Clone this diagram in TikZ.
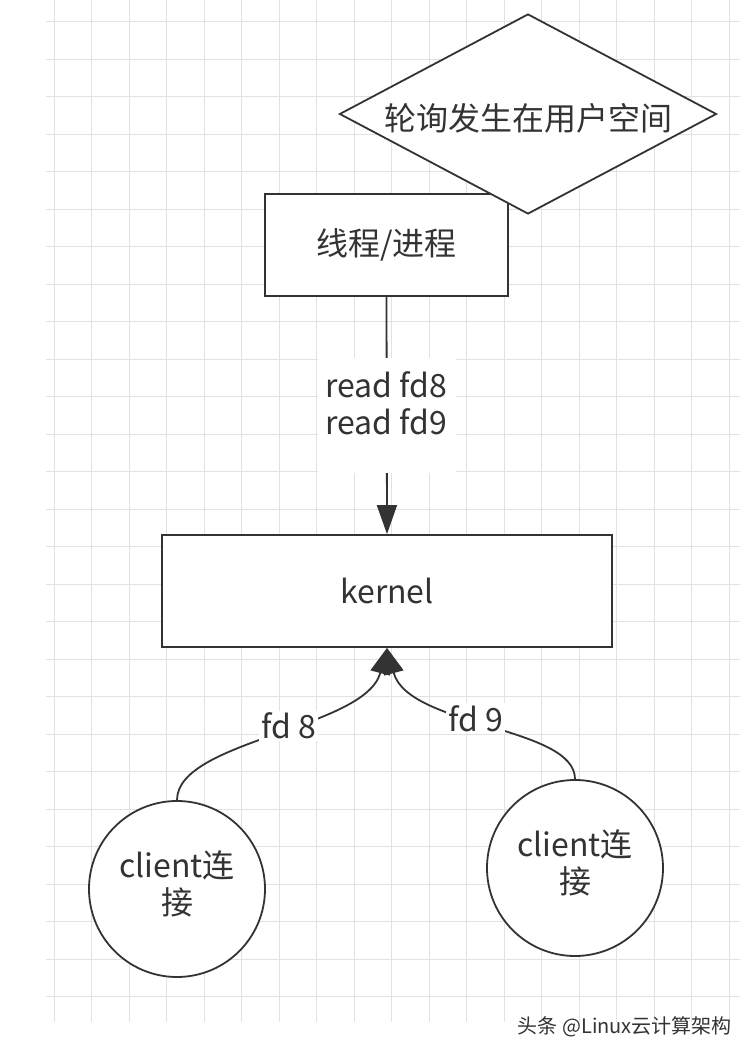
\documentclass[tikz,border=0pt]{standalone}
\usepackage{fontspec}
\setmainfont{Noto Sans CJK SC}
\usetikzlibrary{shapes.geometric,arrows.meta}
\definecolor{ink}{HTML}{333333}
\definecolor{gridc}{HTML}{E2E2E2}
\tikzset{
  boxnode/.style={draw=ink, line width=1.8pt, fill=white, inner sep=0pt},
  txt/.style={text=ink, font=\fontsize{32pt}{37pt}\selectfont, align=center, inner sep=0pt},
  conn/.style={draw=ink, line width=1.8pt},
  lbl/.style={fill=white, text=ink, font=\fontsize{32pt}{37pt}\selectfont, inner sep=2pt},
  gridline/.style={draw=gridc, line width=1pt}
}
\begin{document}
\begin{tikzpicture}[x=1pt,y=1pt]
\useasboundingbox (0,0) rectangle (750,1052);
\fill[white] (0,0) rectangle (750,1052);
% grid
\foreach \k in {0,...,18} { \draw[gridline] ({54+37.5*\k},1052) -- ({54+37.5*\k},30); }
\foreach \k in {0,...,26} { \draw[gridline] (46,{1052-22-37.5*\k}) -- (740,{1052-22-37.5*\k}); }
% nodes
\node[boxnode, minimum width=243pt, minimum height=102pt] (thread) at (386.5,807) {};
\node[txt] (threadtxt) at (thread) {线程/进程};
\node[boxnode, diamond, minimum width=377pt, minimum height=200pt, shape aspect=1.885] (poll) at (528,938) {};
\node[txt] (polltxt) at (528,934) {轮询发生在用户空间};
\node[boxnode, minimum width=450pt, minimum height=112pt] (kernel) at (387,461) {};
\node[txt] (kerneltxt) at (kernel) {kernel};
\node[boxnode, circle, minimum size=176pt] (c1) at (177,163) {};
\node[txt] (c1txt) at (177,168) {client连\\接};
\node[boxnode, circle, minimum size=176pt] (c2) at (575,184) {};
\node[txt] (c2txt) at (575,189) {client连\\接};
% top connector
\draw[conn, -{Triangle[width=20pt,length=29pt]}] (thread.south) -- (kernel.north)
  node[midway, fill=white, minimum width=138pt, minimum height=115pt, inner sep=0pt] (rlbl) {};
\node[txt] (rtxt) at (386,649) {read fd8\\read fd9};
% bottom connectors
\draw[conn, -{Triangle[width=20pt,length=26pt]}] (c1.north)
  to[out=90, in=-105, out distance=60pt, in distance=84pt]
  node[lbl, pos=0.55] (fd8) {fd 8} (kernel.south);
\draw[conn, -{Triangle[width=20pt,length=26pt]}] (c2.north)
  to[out=90, in=-75, out distance=53pt, in distance=82pt]
  node[lbl, pos=0.55] (fd9) {fd 9} (kernel.south);
% watermark
\node[text=ink, font=\fontsize{20pt}{24pt}\selectfont, anchor=east, inner sep=0pt] (wm) at (732,25) {头条 @Linux云计算架构};
\end{tikzpicture}
\end{document}
